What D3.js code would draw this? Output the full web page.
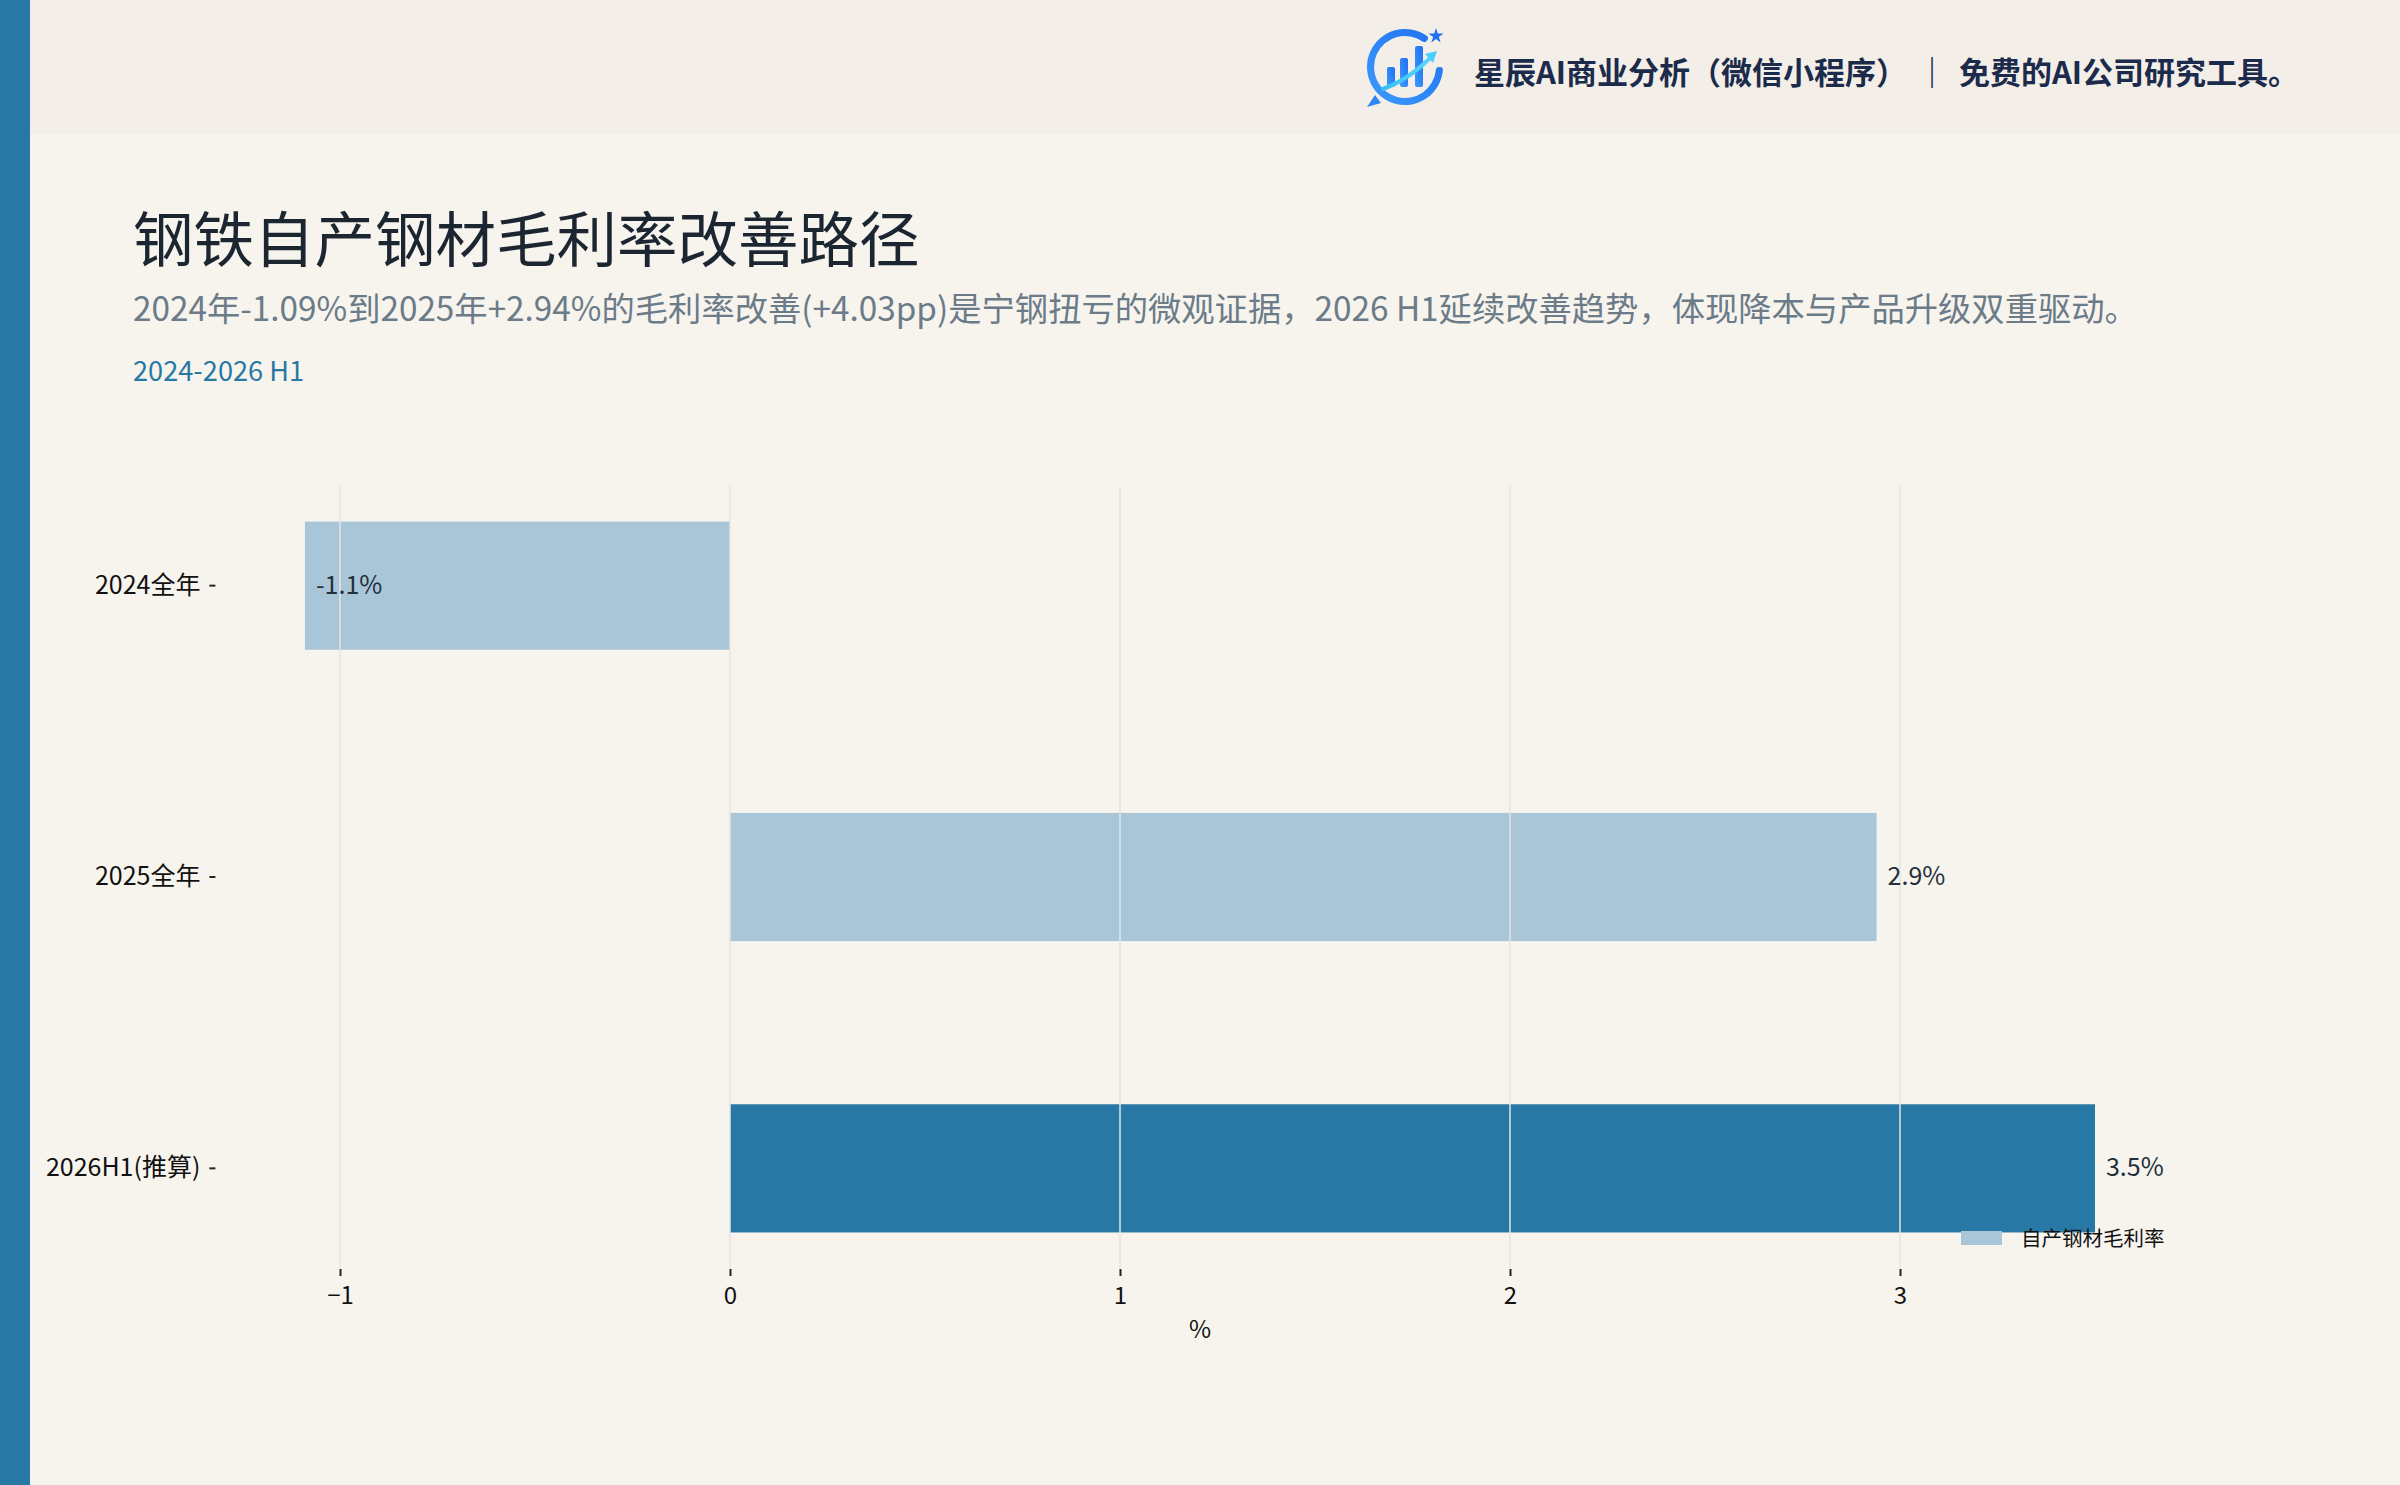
<!DOCTYPE html>
<html>
<head>
<meta charset="utf-8">
<script src="https://cdn.jsdelivr.net/npm/d3@7"></script>
<style>
  html, body { margin: 0; padding: 0; background: #f7f4ee; }
  svg { display: block; }
  text { font-family: "Noto Sans CJK SC", "Noto Sans", sans-serif; }
</style>
</head>
<body>
<svg id="chart" width="2400" height="1485"></svg>
<script>
// ---- data ----
const categories = ["2024全年", "2025全年", "2026H1(推算)"];
const values = [-1.09, 2.94, 3.5];
const highlight = [false, false, true];
const xTicks = [-1, 0, 1, 2, 3];
const seriesName = "自产钢材毛利率";
const xAxisTitle = "%";
const title = "钢铁自产钢材毛利率改善路径";
const subtitle = "2024年-1.09%到2025年+2.94%的毛利率改善(+4.03pp)是宁钢扭亏的微观证据，2026 H1延续改善趋势，体现降本与产品升级双重驱动。";
const period = "2024-2026 H1";
const brandLeft = "星辰AI商业分析（微信小程序）";
const brandSep = "｜";
const brandRight = "免费的AI公司研究工具。";

// ---- styles ----
const W = 2400, H = 1485;
const cLight = "#a9c5d8", cDark = "#2878a6";
const plot = { left: 215.4, right: 2184.5, top: 486, bottom: 1268 };

const svg = d3.select("#chart");

// backgrounds
svg.append("rect").attr("x", 0).attr("y", 0).attr("width", W).attr("height", H).attr("fill", "#f7f4ee");
svg.append("rect").attr("x", 0).attr("y", 0).attr("width", W).attr("height", 135).attr("fill", "#f3efe8");
svg.append("rect").attr("x", 0).attr("y", 0).attr("width", 30).attr("height", H).attr("fill", cDark);

// ---- header logo ----
const defs = svg.append("defs");
const grad = defs.append("linearGradient").attr("id", "lg").attr("x1", "0").attr("y1", "1").attr("x2", "1").attr("y2", "0");
grad.append("stop").attr("offset", "0").attr("stop-color", "#3d9bff");
grad.append("stop").attr("offset", "1").attr("stop-color", "#1f6ff0");
const grad2 = defs.append("linearGradient").attr("id", "lg2").attr("x1", "0").attr("y1", "1").attr("x2", "1").attr("y2", "0");
grad2.append("stop").attr("offset", "0").attr("stop-color", "#36c2f0");
grad2.append("stop").attr("offset", "1").attr("stop-color", "#5ad8ff");

const logo = svg.append("g").attr("transform", "translate(1405,67)");
const ringArc = d3.arc().innerRadius(31).outerRadius(38)
  .startAngle(Math.PI * 0.5).endAngle(Math.PI * 2 + Math.PI * 0.22).cornerRadius(3);
logo.append("path").attr("d", ringArc()).attr("fill", "url(#lg)");
const star = d3.symbol().type(d3.symbolStar).size(70);
logo.append("path").attr("d", star()).attr("transform", "translate(31,-31)").attr("fill", "#1f6ff0");
logo.append("path").attr("d", "M-30,28 L-38,40 L-24,36 Z").attr("fill", "#2f86f5");
[[-18, 0, 20], [-5, -9, 29], [10, -21, 41]].forEach(([bx, by, bh]) => {
  logo.append("rect").attr("x", bx).attr("y", by).attr("width", 8).attr("height", bh).attr("rx", 2).attr("fill", "url(#lg)");
});
logo.append("path").attr("d", "M-22,22 Q5,12 28,-12").attr("fill", "none").attr("stroke", "url(#lg2)").attr("stroke-width", 4).attr("stroke-linecap", "round");
logo.append("path").attr("d", "M32,-16 L20,-13 L28,-4 Z").attr("fill", "#4ccfff");

// brand text
const brand = svg.append("g").attr("fill", "#1c2b4b").attr("font-weight", "bold").attr("font-size", 31);
brand.append("text").attr("x", 1474).attr("y", 70).attr("dominant-baseline", "central").text(brandLeft);
brand.append("text").attr("x", 1932).attr("y", 70).attr("text-anchor", "middle").attr("dominant-baseline", "central").text(brandSep);
brand.append("text").attr("x", 1959).attr("y", 70).attr("dominant-baseline", "central").text(brandRight);

// ---- titles ----
svg.append("text").attr("x", 133).attr("y", 235).attr("dominant-baseline", "central")
  .attr("font-size", 60.5).attr("fill", "#1b2631").text(title);
svg.append("text").attr("x", 133).attr("y", 306).attr("dominant-baseline", "central")
  .attr("font-size", 33.3).attr("fill", "#6b7b88").text(subtitle);
svg.append("text").attr("x", 133).attr("y", 369).attr("dominant-baseline", "central")
  .attr("font-size", 27.2).attr("fill", cDark).text(period);

// ---- scales ----
const xMin = Math.min(0, d3.min(values)), xMax = Math.max(0, d3.max(values));
const pad = (xMax - xMin) * 0.05;
const x = d3.scaleLinear().domain([xMin - pad, xMax + pad]).range([plot.left, plot.right]);
const y = d3.scaleBand().domain(categories).range([plot.top, plot.bottom])
  .paddingInner(0.56).paddingOuter(0.122);

// bars
svg.append("g").selectAll("rect").data(values).join("rect")
  .attr("x", d => x(Math.min(0, d)))
  .attr("width", d => Math.abs(x(d) - x(0)))
  .attr("y", (d, i) => y(categories[i]))
  .attr("height", y.bandwidth())
  .attr("fill", (d, i) => highlight[i] ? cDark : cLight);

// gridlines (drawn above bars)
svg.append("g").selectAll("line").data(xTicks).join("line")
  .attr("x1", d => x(d)).attr("x2", d => x(d))
  .attr("y1", plot.top).attr("y2", plot.bottom)
  .attr("stroke", "#e4e4e4").attr("stroke-opacity", 0.75).attr("stroke-width", 2);

// value labels
svg.append("g").selectAll("text").data(values).join("text")
  .attr("x", d => x(d) + 11)
  .attr("y", (d, i) => y(categories[i]) + y.bandwidth() / 2 - 3)
  .attr("dominant-baseline", "central")
  .attr("font-size", 25).attr("fill", "#22303c")
  .text(d => d.toFixed(1) + "%");

// x axis
const xAxis = d3.axisBottom(x).tickValues(xTicks).tickFormat(d3.format("d")).tickSize(7).tickPadding(11);
const gx = svg.append("g").attr("transform", `translate(0,${plot.bottom + 1})`).call(xAxis);
gx.select(".domain").remove();
gx.selectAll(".tick line").attr("stroke", "#222").attr("stroke-width", 2);
gx.selectAll(".tick text").attr("font-size", 24).attr("fill", "#111")
  .attr("font-family", "'Noto Sans CJK SC', 'Noto Sans', sans-serif");

// y axis
const yAxis = d3.axisLeft(y).tickSize(6).tickPadding(9);
const gy = svg.append("g").attr("transform", `translate(${plot.left},0)`).call(yAxis);
gy.select(".domain").remove();
gy.selectAll(".tick line").attr("stroke", "#222").attr("stroke-width", 2);
gy.selectAll(".tick text").attr("font-size", 25).attr("fill", "#111")
  .attr("font-family", "'Noto Sans CJK SC', 'Noto Sans', sans-serif");

// x axis title
svg.append("text").attr("x", (plot.left + plot.right) / 2).attr("y", 1327)
  .attr("text-anchor", "middle").attr("dominant-baseline", "central")
  .attr("font-size", 24).attr("fill", "#111").text(xAxisTitle);

// legend
const lg = svg.append("g");
lg.append("rect").attr("x", 1961).attr("y", 1231).attr("width", 41).attr("height", 14).attr("fill", cLight);
lg.append("text").attr("x", 2021).attr("y", 1237).attr("dominant-baseline", "central")
  .attr("font-size", 20.5).attr("fill", "#111").text(seriesName);
</script>
</body>
</html>
